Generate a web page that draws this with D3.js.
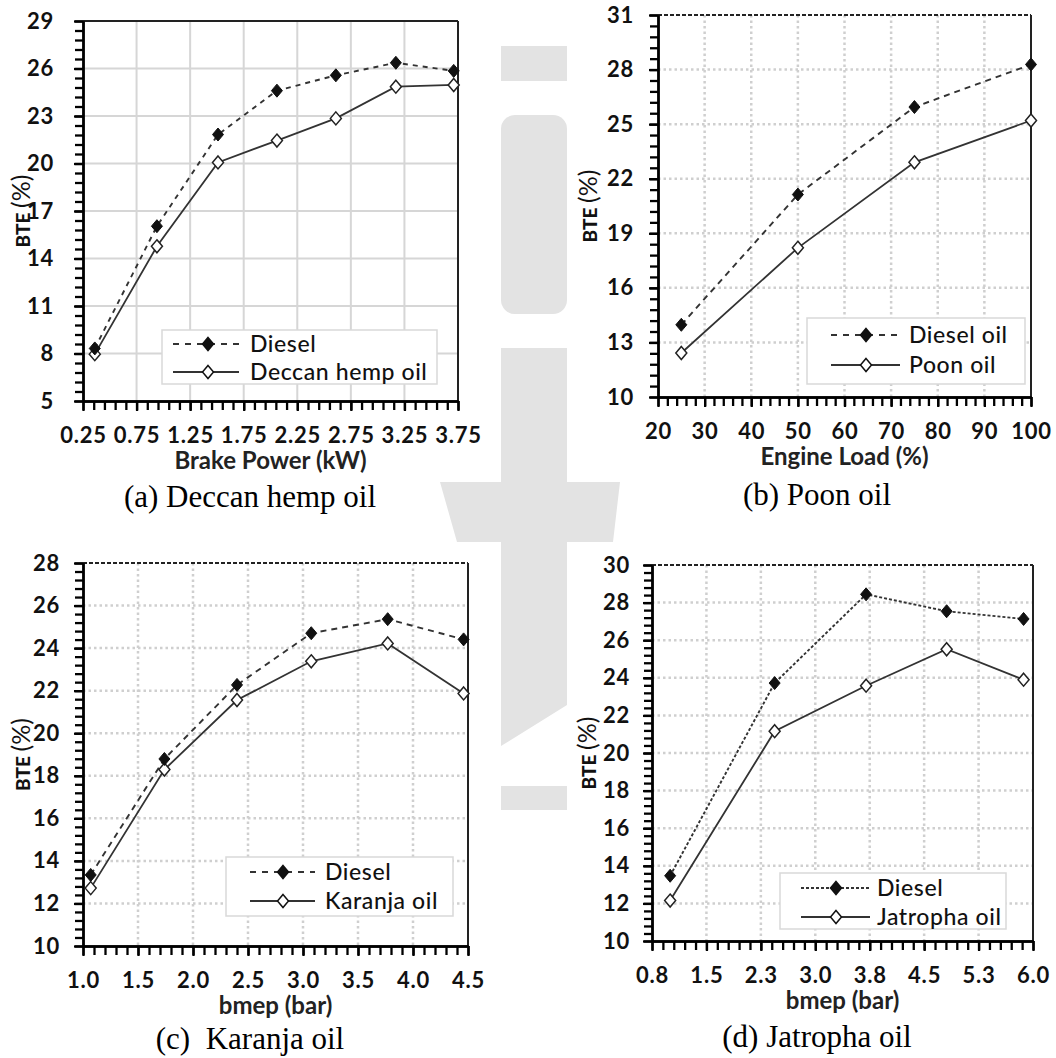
<!DOCTYPE html>
<html>
<head>
<meta charset="utf-8">
<script src="https://cdn.jsdelivr.net/npm/d3@7"></script>
<style>
  body { margin: 0; background: #fff; }
  svg { display: block; }
</style>
</head>
<body>
<svg id="fig" width="1056" height="1058"></svg>
<script>
// ---------- (a) Deccan hemp oil ----------
const hempPower   = [0.36, 0.94, 1.51, 2.06, 2.61, 3.17, 3.71];
const hempDiesel  = [8.32, 16.04, 21.83, 24.60, 25.57, 26.36, 25.85];
const hempOil     = [7.96, 14.77, 20.07, 21.45, 22.85, 24.85, 24.96];
const hempXTicks  = [0.25, 0.75, 1.25, 1.75, 2.25, 2.75, 3.25, 3.75];
const hempXLabels = ["0.25", "0.75", "1.25", "1.75", "2.25", "2.75", "3.25", "3.75"];
const hempYTicks  = [5, 8, 11, 14, 17, 20, 23, 26, 29];
const hempYLabels = ["5", "8", "11", "14", "17", "20", "23", "26", "29"];

// ---------- (b) Poon oil ----------
const poonLoad    = [25, 50, 75, 100];
const poonDiesel  = [13.97, 21.13, 25.94, 28.28];
const poonOil     = [12.42, 18.20, 22.90, 25.20];
const poonXTicks  = [20, 30, 40, 50, 60, 70, 80, 90, 100];
const poonXLabels = ["20", "30", "40", "50", "60", "70", "80", "90", "100"];
const poonYTicks  = [10, 13, 16, 19, 22, 25, 28, 31];
const poonYLabels = ["10", "13", "16", "19", "22", "25", "28", "31"];

// ---------- (c) Karanja oil ----------
const karanjaBmep    = [1.07, 1.74, 2.40, 3.075, 3.77, 4.46];
const karanjaDiesel  = [13.34, 18.79, 22.27, 24.70, 25.36, 24.41];
const karanjaOil     = [12.72, 18.29, 21.56, 23.38, 24.22, 21.87];
const karanjaXTicks  = [1.0, 1.5, 2.0, 2.5, 3.0, 3.5, 4.0, 4.5];
const karanjaXLabels = ["1.0", "1.5", "2.0", "2.5", "3.0", "3.5", "4.0", "4.5"];
const karanjaYTicks  = [10, 12, 14, 16, 18, 20, 22, 24, 26, 28];
const karanjaYLabels = ["10", "12", "14", "16", "18", "20", "22", "24", "26", "28"];

// ---------- (d) Jatropha oil ----------
const jatrophaBmep    = [1.0, 2.44, 3.70, 4.81, 5.87];
const jatrophaDiesel  = [13.47, 23.72, 28.44, 27.54, 27.13];
const jatrophaOil     = [12.15, 21.16, 23.58, 25.52, 23.90];
const jatrophaXTicks  = [0.75, 1.5, 2.25, 3.0, 3.75, 4.5, 5.25, 6.0];
const jatrophaXLabels = ["0.8", "1.5", "2.3", "3.0", "3.8", "4.5", "5.3", "6.0"];
const jatrophaYTicks  = [10, 12, 14, 16, 18, 20, 22, 24, 26, 28, 30];
const jatrophaYLabels = ["10", "12", "14", "16", "18", "20", "22", "24", "26", "28", "30"];

const svg = d3.select("#fig");
const SANS = "Lato, 'Open Sans', sans-serif";
const SERIF = "'Liberation Serif', 'Times New Roman', serif";
const WM = "#e3e3e3";

// ---------- faint background emblem ----------
const wm = svg.append("g");
wm.append("rect").attr("x", 501).attr("y", 46).attr("width", 66).attr("height", 35).attr("fill", WM);
wm.append("rect").attr("x", 501).attr("y", 115).attr("width", 66).attr("height", 199).attr("rx", 14).attr("fill", WM);
wm.append("path").attr("fill", WM)
  .attr("d", "M501,348 L567,348 L567,482 L620,482 L613,542 L567,542 L567,705 L501,746 L501,542 L457,542 L440,482 L501,482 Z");
wm.append("rect").attr("x", 501).attr("y", 786).attr("width", 66).attr("height", 24).attr("fill", WM);

// ---------- panel layouts ----------
const panels = [
  {
    bg: [0, 0, 501, 478],
    plot: { left: 83, right: 458, top: 21, bottom: 401 },
    x: hempPower, s1: hempDiesel, s2: hempOil,
    xTicks: hempXTicks, xLabels: hempXLabels, xMinor: 0.1,
    yTicks: hempYTicks, yLabels: hempYLabels, yMinor: 0.6,
    grid: "solid", yPad: 21,
    xTitle: "Brake Power (kW)", names: ["Diesel", "Deccan hemp oil"],
    legend: { x: 162, y: 330, w: 275, h: 54, lx0: 11, lx1: 77, mx: 46, tx: 88, r1: 14, r2: 42 },
    dash1: "5,5", legDash: "6,6",
    yLabX: 24, caption: "(a) Deccan hemp oil", capX: 250, capY: 507
  },
  {
    bg: [567, 0, 489, 478],
    plot: { left: 658, right: 1031, top: 15, bottom: 397 },
    x: poonLoad, s1: poonDiesel, s2: poonOil,
    xTicks: poonXTicks, xLabels: poonXLabels, xMinor: 2,
    yTicks: poonYTicks, yLabels: poonYLabels, yMinor: 0.6,
    grid: "dotted", yPad: 16,
    xTitle: "Engine Load (%)", names: ["Diesel oil", "Poon oil"],
    legend: { x: 807, y: 318, w: 218, h: 66, lx0: 24, lx1: 93, mx: 59, tx: 102, r1: 17, r2: 47 },
    dash1: "6,5", legDash: "6,6",
    yLabX: 591, caption: "(b) Poon oil", capX: 817, capY: 505
  },
  {
    bg: [0, 542, 501, 516],
    plot: { left: 83, right: 468, top: 563, bottom: 946 },
    x: karanjaBmep, s1: karanjaDiesel, s2: karanjaOil,
    xTicks: karanjaXTicks, xLabels: karanjaXLabels, xMinor: 0.1,
    yTicks: karanjaYTicks, yLabels: karanjaYLabels, yMinor: 0.4,
    grid: "dotted", yPad: 15,
    xTitle: "bmep (bar)", names: ["Diesel", "Karanja oil"],
    legend: { x: 226, y: 857, w: 227, h: 59, lx0: 24, lx1: 89, mx: 57, tx: 99, r1: 15, r2: 44 },
    dash1: "6,5", legDash: "6,6",
    yLabX: 24, caption: "(c)  Karanja oil", capX: 250, capY: 1049
  },
  {
    bg: [567, 542, 489, 407],
    plot: { left: 652, right: 1033, top: 565, bottom: 941 },
    x: jatrophaBmep, s1: jatrophaDiesel, s2: jatrophaOil,
    xTicks: jatrophaXTicks, xLabels: jatrophaXLabels, xMinor: 0.15,
    yTicks: jatrophaYTicks, yLabels: jatrophaYLabels, yMinor: 0.4,
    grid: "dotted", yPad: 14,
    xTitle: "bmep (bar)", names: ["Diesel", "Jatropha oil"],
    legend: { x: 780, y: 873, w: 226, h: 56, lx0: 21, lx1: 90, mx: 56, tx: 97, r1: 15, r2: 44 },
    dash1: "3,2", legDash: "3,2",
    yLabX: 590, caption: "(d) Jatropha oil", capX: 817, capY: 1047
  }
];

// diamond marker centred on (0,0)
const diamond = "M0,-6.5 L5.5,0 L0,6.5 L-5.5,0 Z";

function minorValues(ticks, step) {
  const lo = d3.min(ticks), hi = d3.max(ticks);
  const n = Math.round((hi - lo) / step);
  return d3.range(n + 1).map(i => lo + i * step);
}

panels.forEach(p => {
  const { left, right, top, bottom } = p.plot;
  svg.append("rect").attr("x", p.bg[0]).attr("y", p.bg[1])
    .attr("width", p.bg[2]).attr("height", p.bg[3]).attr("fill", "#fff");

  const x = d3.scaleLinear().domain(d3.extent(p.xTicks)).range([left, right]);
  const y = d3.scaleLinear().domain(d3.extent(p.yTicks)).range([bottom, top]);
  const g = svg.append("g");

  // gridlines
  const gridStyle = sel => p.grid === "solid"
    ? sel.attr("stroke", "#d6d6d6").attr("stroke-width", 2)
    : sel.attr("stroke", "#cfcfcf").attr("stroke-width", 2.5).attr("stroke-dasharray", "2.5,3");
  g.selectAll(".gx").data(p.xTicks.slice(1, -1)).join("line")
    .attr("x1", d => x(d)).attr("x2", d => x(d)).attr("y1", top).attr("y2", bottom).call(gridStyle);
  g.selectAll(".gy").data(p.yTicks.slice(1, -1)).join("line")
    .attr("y1", d => y(d)).attr("y2", d => y(d)).attr("x1", left).attr("x2", right).call(gridStyle);

  // frame: top and right edges
  g.append("line").attr("x1", left).attr("x2", right).attr("y1", top).attr("y2", top)
    .attr("stroke", "#222").attr("stroke-width", 2)
    .attr("stroke-dasharray", p.grid === "solid" ? null : "4,2");
  g.append("line").attr("x1", right).attr("x2", right).attr("y1", top).attr("y2", bottom)
    .attr("stroke", "#222").attr("stroke-width", 2);

  // minor ticks
  const xMinorAxis = d3.axisBottom(x).tickValues(minorValues(p.xTicks, p.xMinor))
    .tickSize(9).tickSizeOuter(0).tickFormat(() => "");
  const yMinorAxis = d3.axisLeft(y).tickValues(minorValues(p.yTicks, p.yMinor))
    .tickSize(8).tickSizeOuter(0).tickFormat(() => "");
  // major ticks with labels
  const xAxis = d3.axisBottom(x).tickValues(p.xTicks).tickSize(10).tickSizeOuter(0)
    .tickPadding(16).tickFormat((d, i) => p.xLabels[i]);
  const yAxis = d3.axisLeft(y).tickValues(p.yTicks).tickSize(9).tickSizeOuter(0)
    .tickPadding(p.yPad - 1).tickFormat((d, i) => p.yLabels[i]);

  [g.append("g").attr("transform", `translate(0,${bottom})`).call(xMinorAxis),
   g.append("g").attr("transform", `translate(${left},0)`).call(yMinorAxis),
   g.append("g").attr("transform", `translate(0,${bottom})`).call(xAxis),
   g.append("g").attr("transform", `translate(${left},0)`).call(yAxis)
  ].forEach(ax => {
    ax.select(".domain").attr("stroke", "#000").attr("stroke-width", 2.4);
    ax.selectAll(".tick line").attr("stroke", "#000").attr("stroke-width", 2.3);
    ax.selectAll(".tick text").attr("fill", "#111").attr("font-family", SANS)
      .attr("font-weight", 700).attr("font-size", 22).attr("letter-spacing", 0.8);
  });

  // axis titles
  g.append("text").attr("x", (left + right) / 2).attr("y", bottom + 60).attr("dy", "0.35em")
    .attr("text-anchor", "middle").attr("font-family", SANS).attr("font-weight", 700)
    .attr("font-size", 24).attr("fill", "#222").text(p.xTitle);
  const yl = g.append("text")
    .attr("transform", `translate(${p.yLabX},${(top + bottom) / 2}) rotate(-90)`)
    .attr("dy", "0.35em").attr("text-anchor", "middle").attr("font-family", SANS)
    .attr("fill", "#111");
  yl.append("tspan").attr("font-weight", 900).attr("font-size", 19).text("BTE ");
  yl.append("tspan").attr("font-weight", 400).attr("font-size", 25).text("(%)");

  // series
  const pts1 = p.x.map((v, i) => [x(v), y(p.s1[i])]);
  const pts2 = p.x.map((v, i) => [x(v), y(p.s2[i])]);
  const line = d3.line();
  g.append("path").attr("d", line(pts2)).attr("fill", "none")
    .attr("stroke", "#333").attr("stroke-width", 1.8);
  g.append("path").attr("d", line(pts1)).attr("fill", "none")
    .attr("stroke", "#333").attr("stroke-width", 1.9).attr("stroke-dasharray", p.dash1);
  g.selectAll(".m2").data(pts2).join("path").attr("d", diamond)
    .attr("transform", d => `translate(${d[0]},${d[1]})`)
    .attr("fill", "#fff").attr("stroke", "#222").attr("stroke-width", 1.5);
  g.selectAll(".m1").data(pts1).join("path").attr("d", diamond)
    .attr("transform", d => `translate(${d[0]},${d[1]})`)
    .attr("fill", "#111").attr("stroke", "#111").attr("stroke-width", 1);

  // legend
  const L = p.legend;
  const lg = g.append("g").attr("transform", `translate(${L.x},${L.y})`);
  lg.append("rect").attr("width", L.w).attr("height", L.h)
    .attr("fill", "#fff").attr("stroke", "#d9d9d9").attr("stroke-width", 1.5);
  [[L.r1, p.legDash, "#111"], [L.r2, null, "#fff"]].forEach(([ry, dash, fill], i) => {
    lg.append("line").attr("x1", L.lx0).attr("x2", L.lx1).attr("y1", ry).attr("y2", ry)
      .attr("stroke", "#333").attr("stroke-width", 1.8).attr("stroke-dasharray", dash);
    lg.append("path").attr("d", diamond).attr("transform", `translate(${L.mx},${ry})`)
      .attr("fill", fill).attr("stroke", "#111").attr("stroke-width", 1.5);
    lg.append("text").attr("x", L.tx).attr("y", ry).attr("dy", "0.36em")
      .attr("font-family", SANS).attr("font-size", 23).attr("font-weight", 500)
      .attr("letter-spacing", 0.6).attr("fill", "#111").text(p.names[i]);
  });

  // caption
  svg.append("text").attr("x", p.capX).attr("y", p.capY).attr("text-anchor", "middle")
    .attr("font-family", SERIF).attr("font-size", 31).attr("fill", "#000")
    .attr("xml:space", "preserve").style("white-space", "pre").text(p.caption);
});
</script>
</body>
</html>
